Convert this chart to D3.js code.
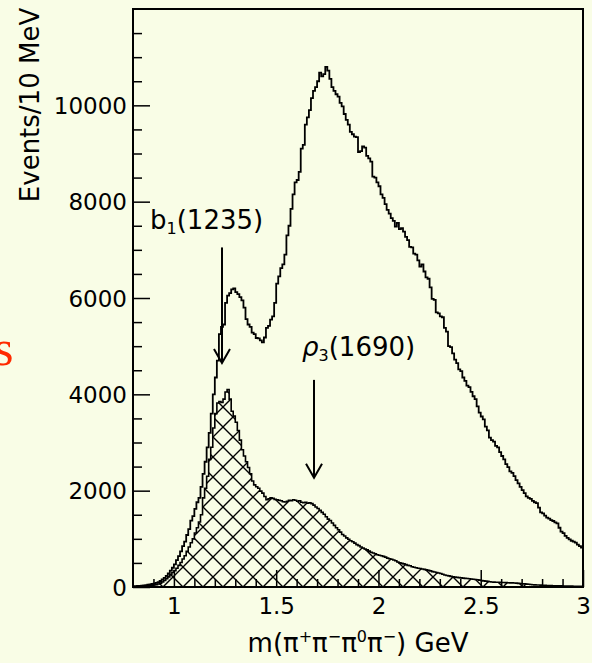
<!DOCTYPE html>
<html>
<head>
<meta charset="utf-8">
<script src="https://cdn.jsdelivr.net/npm/d3@7"></script>
<style>
  html, body { margin: 0; padding: 0; background: #F9FDE6; }
  svg { display: block; }
</style>
</head>
<body>
<svg id="chart" width="592" height="663"></svg>
<script>
// Bin layout: 10 MeV bins from 0.80 to 3.00 GeV
const binStart = 0.8;
const binWidth = 0.01;

// All events, per 10 MeV bin
const totalCounts = [
  15, 20, 22, 25, 30, 35, 40, 48, 55, 62,
  70, 85, 100, 125, 160, 190, 230, 280, 340, 400,
  470, 560, 640, 740, 850, 940, 1080, 1200, 1380, 1470,
  1620, 1760, 1850, 2080, 2350, 2600, 2900, 3200, 3600, 4000,
  4350, 4700, 5250, 5400, 5450, 5900, 6050, 6100, 6180, 6200,
  6120, 6080, 6020, 5950, 5800, 5560, 5450, 5400, 5280, 5250,
  5170, 5160, 5120, 5080, 5180, 5380, 5420, 5550, 5620, 5900,
  6300, 6450, 6620, 6700, 6900, 7300, 7500, 7850, 8150, 8400,
  8450, 8620, 9100, 9180, 9600, 9750, 9900, 10150, 10300, 10380,
  10500, 10680, 10600, 10650, 10800, 10720, 10550, 10380, 10300, 10230,
  10180, 10050, 9980, 9820, 9700, 9600, 9450, 9400, 9350, 9340,
  9030, 9050, 9150, 9120, 8950, 8900, 8830, 8520, 8500, 8400,
  8320, 8150, 8080, 7950, 7830, 7750, 7660, 7600, 7480, 7560,
  7430, 7450, 7380, 7270, 7200, 7060, 7050, 6920, 6900, 6780,
  6650, 6700, 6550, 6430, 6400, 6220, 5980, 5960, 5700, 5680,
  5620, 5600, 5380, 5300, 5000, 4980, 4850, 4720, 4650, 4520,
  4480, 4350, 4280, 4180, 4150, 4050, 3960, 3900, 3750, 3620,
  3540, 3480, 3330, 3250, 3100, 3050, 3020, 2930, 2900, 2800,
  2720, 2650, 2550, 2490, 2400, 2370, 2300, 2220, 2150, 2080,
  2010, 1950, 1880, 1850, 1830, 1790, 1760, 1740, 1650, 1550,
  1530, 1480, 1440, 1420, 1390, 1370, 1340, 1320, 1230, 1150,
  1120, 1060, 1020, 990, 960, 940, 920, 880, 850, 820
];

// Selected subsample (cross-hatched), per 10 MeV bin
const selectedCounts = [
  8, 10, 12, 14, 16, 18, 22, 26, 30, 35,
  42, 50, 62, 80, 105, 135, 170, 210, 255, 300,
  340, 390, 450, 510, 580, 650, 740, 830, 920, 1000,
  1120, 1230, 1350, 1500, 1850, 2050, 2300, 2650, 2900, 3300,
  3600, 3820, 3850, 3830, 3900, 4050, 4100, 3900, 3650, 3550,
  3420, 3250, 3050, 2850, 2720, 2600, 2480, 2350, 2200, 2120,
  2080, 2050, 1990, 1950, 1880, 1810, 1830, 1850, 1840, 1820,
  1810, 1800, 1790, 1770, 1765, 1780, 1800, 1790, 1810, 1800,
  1780, 1790, 1760, 1750, 1760, 1740, 1750, 1730, 1700, 1660,
  1630, 1590, 1550, 1510, 1460, 1410, 1380, 1330, 1280, 1230,
  1190, 1140, 1090, 1060, 1020, 990, 960, 940, 910, 880,
  860, 830, 810, 790, 770, 745, 720, 705, 690, 670,
  660, 650, 635, 620, 600, 585, 575, 560, 545, 520,
  500, 490, 480, 465, 450, 440, 420, 410, 400, 390,
  385, 375, 365, 355, 345, 335, 320, 310, 300, 290,
  280, 265, 250, 240, 230, 220, 210, 205, 200, 195,
  190, 185, 180, 175, 170, 165, 160, 155, 150, 142,
  135, 128, 122, 116, 110, 105, 102, 100, 98, 96,
  94, 92, 90, 88, 86, 85, 84, 80, 76, 72,
  68, 64, 60, 56, 52, 48, 44, 42, 40, 38,
  36, 34, 32, 30, 28, 27, 26, 25, 24, 23,
  22, 21, 20, 19, 18, 17, 16, 15, 14, 13
];

// Axis ticks
const xMajorTicks = [1, 1.5, 2, 2.5, 3];
const xTickLabels = ["1", "1.5", "2", "2.5", "3"];
const xMinorTicks = [0.9, 1.1, 1.2, 1.3, 1.4, 1.6, 1.7, 1.8, 1.9, 2.1, 2.2, 2.3, 2.4, 2.6, 2.7, 2.8, 2.9];
const yMajorTicks = [0, 2000, 4000, 6000, 8000, 10000];
const yTickLabels = ["0", "2000", "4000", "6000", "8000", "10000"];
const yMinorTicks = [500, 1000, 1500, 2500, 3000, 3500, 4500, 5000, 5500, 6500, 7000, 7500, 8500, 9000, 9500, 10500, 11000, 11500];

// Resonance markers: label base, subscript, mass text, nominal mass in GeV
const markers = [
  { base: "b", sub: "1", mass: "(1235)", m: 1.235 },
  { base: "ρ", sub: "3", mass: "(1690)", m: 1.685 }
];

const FONT = "'DejaVu Sans', sans-serif";
const svg = d3.select("#chart");
const margin = { left: 133, right: 9, top: 9, bottom: 76 };
const W = 592, H = 663;

const x = d3.scaleLinear().domain([0.8, 3.0]).range([margin.left, W - margin.right]);
const y = d3.scaleLinear().domain([0, 12000]).range([H - margin.bottom, margin.top]);

// cross-hatch fill
const defs = svg.append("defs");
const pat = defs.append("pattern")
  .attr("id", "xhatch")
  .attr("patternUnits", "userSpaceOnUse")
  .attr("width", 20).attr("height", 20)
  .attr("x", 3).attr("y", 7);
pat.append("path")
  .attr("d", "M-5,-5L25,25M25,-5L-5,25")
  .attr("stroke", "#000").attr("stroke-width", 1.4).attr("fill", "none");

defs.append("clipPath").attr("id", "plotclip")
  .append("rect")
  .attr("x", x(0.8)).attr("y", y(12000))
  .attr("width", x(3) - x(0.8)).attr("height", y(0) - y(12000));

// step points: left edge of every bin, plus the closing right edge
function steps(counts) {
  const pts = counts.map((v, i) => [binStart + i * binWidth, v]);
  pts.push([binStart + counts.length * binWidth, counts[counts.length - 1]]);
  return pts;
}

const line = d3.line().x(d => x(d[0])).y(d => y(d[1])).curve(d3.curveStepAfter);
const area = d3.area().x(d => x(d[0])).y0(y(0)).y1(d => y(d[1])).curve(d3.curveStepAfter);

const plot = svg.append("g").attr("clip-path", "url(#plotclip)");

plot.append("path")
  .datum(steps(selectedCounts))
  .attr("d", area)
  .attr("fill", "url(#xhatch)");

plot.append("path")
  .datum(steps(selectedCounts))
  .attr("d", line)
  .attr("fill", "none").attr("stroke", "#000").attr("stroke-width", 1.6);

plot.append("path")
  .datum(steps(totalCounts))
  .attr("d", line)
  .attr("fill", "none").attr("stroke", "#000").attr("stroke-width", 1.8);

// axes with inward ticks
const gx = svg.append("g").attr("transform", `translate(0,${y(0)})`);
gx.call(d3.axisBottom(x).tickValues(xMinorTicks).tickSize(-8).tickFormat(""));
const gxMaj = svg.append("g").attr("transform", `translate(0,${y(0)})`);
gxMaj.call(d3.axisBottom(x).tickValues(xMajorTicks).tickSize(-17).tickPadding(11)
  .tickFormat((d, i) => xTickLabels[i]));

const gy = svg.append("g").attr("transform", `translate(${x(0.8)},0)`);
gy.call(d3.axisLeft(y).tickValues(yMinorTicks).tickSize(-9).tickFormat(""));
const gyMaj = svg.append("g").attr("transform", `translate(${x(0.8)},0)`);
gyMaj.call(d3.axisLeft(y).tickValues(yMajorTicks).tickSize(-17).tickPadding(6)
  .tickFormat((d, i) => yTickLabels[i]));

svg.selectAll(".domain").remove();
svg.selectAll(".tick line").attr("stroke", "#000").attr("stroke-width", 1.5);
svg.selectAll(".tick text")
  .attr("font-family", FONT)
  .attr("font-size", 23).attr("fill", "#000");
gyMaj.selectAll(".tick text").attr("dy", "0.36em");

// frame
svg.append("rect")
  .attr("x", x(0.8)).attr("y", y(12000))
  .attr("width", x(3) - x(0.8)).attr("height", y(0) - y(12000))
  .attr("fill", "none").attr("stroke", "#000").attr("stroke-width", 2);

// axis titles
svg.append("text")
  .attr("transform", `translate(39,${(5 + 205) / 2}) rotate(-90)`)
  .attr("text-anchor", "middle")
  .attr("font-family", FONT)
  .attr("font-size", 26)
  .text("Events/10 MeV");

const xt = svg.append("text")
  .attr("x", 358).attr("y", 652)
  .attr("text-anchor", "middle")
  .attr("font-family", FONT)
  .attr("font-size", 26);
xt.append("tspan").text("m(π");
xt.append("tspan").attr("font-size", 16).attr("dy", -10).text("+");
xt.append("tspan").attr("dy", 10).text("π");
xt.append("tspan").attr("font-size", 16).attr("dy", -10).text("−");
xt.append("tspan").attr("dy", 10).text("π");
xt.append("tspan").attr("font-size", 16).attr("dy", -10).text("0");
xt.append("tspan").attr("dy", 10).text("π");
xt.append("tspan").attr("font-size", 16).attr("dy", -10).text("−");
xt.append("tspan").attr("dy", 10).text(") GeV");

// resonance labels and arrows
const labelPos = [
  { lx: 150, ly: 229, top: y(7050), tip: y(4650) },
  { lx: 302, ly: 356, top: y(4300), tip: y(2270) }
];
markers.forEach((mk, i) => {
  const p = labelPos[i];
  const t = svg.append("text").attr("x", p.lx).attr("y", p.ly)
    .attr("font-family", FONT).attr("font-size", 26);
  t.append("tspan").attr("font-style", i === 1 ? "italic" : "normal").text(mk.base);
  t.append("tspan").attr("font-size", 16).attr("dy", 5).text(mk.sub);
  t.append("tspan").attr("dy", -5).text(mk.mass);
  const ax = x(mk.m);
  svg.append("line")
    .attr("x1", ax).attr("x2", ax).attr("y1", p.top).attr("y2", p.tip)
    .attr("stroke", "#000").attr("stroke-width", 2);
  svg.append("path")
    .attr("d", `M${ax - 8},${p.tip - 14}L${ax},${p.tip}L${ax + 8},${p.tip - 14}`)
    .attr("fill", "none").attr("stroke", "#000").attr("stroke-width", 2);
});

// red serif glyph at the left margin
svg.append("text")
  .attr("x", -6).attr("y", 365)
  .attr("font-family", "'Liberation Serif', serif")
  .attr("font-size", 50)
  .attr("fill", "#FF2A00")
  .text("s");
</script>
</body>
</html>
